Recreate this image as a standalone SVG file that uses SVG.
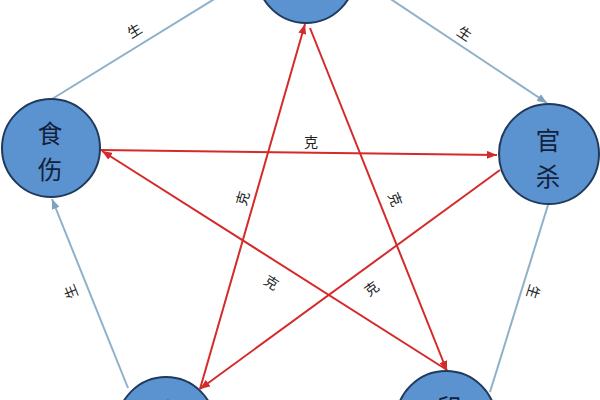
<svg xmlns="http://www.w3.org/2000/svg" width="600" height="400" viewBox="0 0 600 400">
<style>
.node{fill:#5b93d1;stroke:#1f3a5c;stroke-width:2}
.nt{font-family:"Noto Sans CJK SC","Noto Sans",sans-serif;font-size:24.5px;fill:#14213a;text-anchor:middle;dominant-baseline:central}
.sheng{stroke:#8eb0c9;stroke-width:2;fill:none}
.ke{stroke:#d42a2a;stroke-width:2;fill:none}
.lb{font-family:"Noto Sans CJK SC","Noto Sans",sans-serif;font-size:14px;fill:#222;text-anchor:middle;dominant-baseline:central}
</style>
<defs>
<marker id="ab" markerUnits="userSpaceOnUse" markerWidth="10" markerHeight="8" refX="10" refY="4" orient="auto">
<path d="M0,0 L10,4 L0,8 Z" fill="#7fa3bf"/>
</marker>
<marker id="ar" markerUnits="userSpaceOnUse" markerWidth="10" markerHeight="8" refX="10" refY="4" orient="auto">
<path d="M0,0 L10,4 L0,8 Z" fill="#d42a2a"/>
</marker>
</defs>
<rect width="600" height="400" fill="#ffffff"/>
<g id="connectors">
<line class="sheng" x1="362" y1="-20" x2="547" y2="103" marker-end="url(#ab)"/>
<line class="sheng" x1="52" y1="99" x2="229" y2="-10" marker-end="url(#ab)"/>
<line class="sheng" x1="128" y1="388" x2="52" y2="199" marker-end="url(#ab)"/>
<line class="sheng" x1="548" y1="205" x2="490" y2="392"/>
<line class="ke" x1="100" y1="150" x2="497" y2="155" marker-end="url(#ar)"/>
<line class="ke" x1="447" y1="370" x2="102" y2="151" marker-end="url(#ar)"/>
<line class="ke" x1="200" y1="389" x2="305" y2="24" marker-end="url(#ar)"/>
<line class="ke" x1="310" y1="28" x2="447" y2="371" marker-end="url(#ar)"/>
<line class="ke" x1="500" y1="170" x2="200" y2="389" marker-end="url(#ar)"/>
<text class="lb" transform="translate(134,30) rotate(-31.6)">生</text>
<text class="lb" transform="translate(465,33) rotate(33.6)">生</text>
<text class="lb" transform="translate(70,292) rotate(-111.8)">生</text>
<text class="lb" transform="translate(534,292) rotate(107.6)">生</text>
<text class="lb" transform="translate(311,141)">克</text>
<text class="lb" transform="translate(242,198) rotate(-73.9)">克</text>
<text class="lb" transform="translate(396,199) rotate(68.2)">克</text>
<text class="lb" transform="translate(272,282) rotate(32.4)">克</text>
<text class="lb" transform="translate(371,288) rotate(-36.3)">克</text>
</g>
<g id="node-cai">
<circle class="node" cx="306" cy="-26" r="49"/>
</g>
<g id="node-shishang">
<circle class="node" cx="51" cy="148" r="49"/>
<text class="nt"><tspan x="50" y="132">食</tspan><tspan x="50" y="168">伤</tspan></text>
</g>
<g id="node-guansha">
<circle class="node" cx="549" cy="154" r="50"/>
<text class="nt"><tspan x="548" y="139">官</tspan><tspan x="548" y="175">杀</tspan></text>
</g>
<g id="node-bijie">
<circle class="node" cx="166" cy="426" r="49"/>
<text class="nt" x="166" y="410">比</text>
</g>
<g id="node-yin">
<circle class="node" cx="446" cy="421" r="50"/>
<text class="nt" x="449" y="406">印</text>
</g>
</svg>
